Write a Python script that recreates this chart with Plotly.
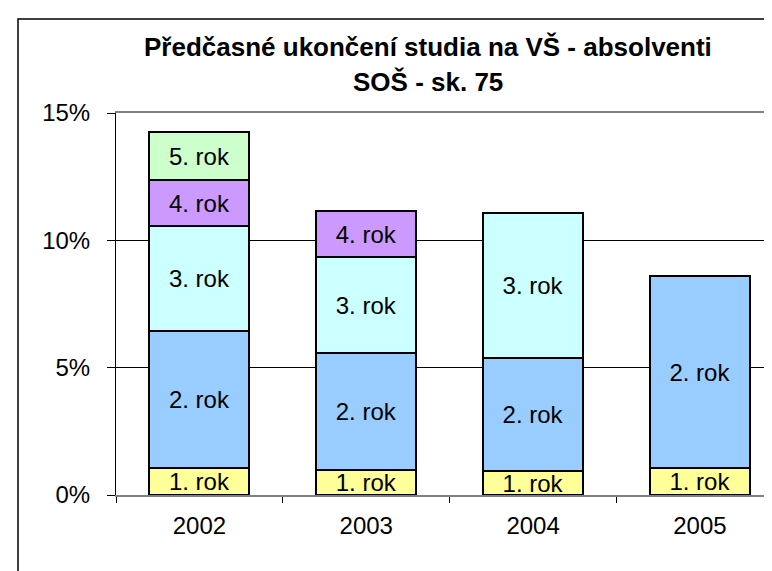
import plotly.graph_objects as go

years = ["2002", "2003", "2004", "2005"]
rok1 = [1.06, 0.98, 0.94, 1.06]
rok2 = [5.37, 4.59, 4.43, 7.53]
rok3 = [4.12, 3.76, 5.69, None]
rok4 = [1.80, 1.81, None, None]
rok5 = [1.92, None, None, None]

series_names = ["1. rok", "2. rok", "3. rok", "4. rok", "5. rok"]
series_vals = [rok1, rok2, rok3, rok4, rok5]
colors = ["#FFFF99", "#99CCFF", "#CCFFFF", "#CC99FF", "#CCFFCC"]

title1 = "Předčasné ukončení studia na VŠ - absolventi"
title2 = "SOŠ - sk. 75"
y_ticks = [0, 5, 10, 15]
y_tick_labels = ["0%", "5%", "10%", "15%"]

W, H = 772, 571
ml, mr, mt, mb = 108, 0, 105, 84
pw, ph = W - ml - mr, H - mt - mb

FONT = "Liberation Sans, Arial, sans-serif"

fig = go.Figure()
for name, vals, col in zip(series_names, series_vals, colors):
    fig.add_trace(go.Bar(
        x=years, y=vals, name=name,
        marker=dict(color=col, line=dict(color="black", width=2)),
        width=0.6,
        text=[name if v is not None else "" for v in vals],
        texttemplate="%{text}",
        textposition="inside",
        insidetextanchor="middle",
        constraintext="none",
        textfont=dict(family=FONT, size=24, color="black"),
        textangle=0,
        hoverinfo="skip",
    ))

def px_x(xp):
    return (xp - ml) / pw

def px_y(yp):
    return (H - mb - yp) / ph

fig.update_layout(
    template="none",
    width=W, height=H,
    barmode="stack",
    showlegend=False,
    plot_bgcolor="white",
    paper_bgcolor="white",
    margin=dict(l=ml, r=mr, t=mt, b=mb, pad=0, autoexpand=False),
    font=dict(family=FONT, size=24, color="black"),
    xaxis=dict(
        type="category",
        automargin=False,
        range=[-0.5, 3.48],
        showline=True, linecolor="#808080", linewidth=2, mirror=True,
        ticks="outside", ticklen=6, tickcolor="black", tickwidth=1,
        tickson="boundaries",
        ticklabelstandoff=8,
        tickfont=dict(family=FONT, size=24, color="black"),
        showgrid=False,
    ),
    yaxis=dict(
        automargin=False,
        range=[0, 15],
        tickmode="array",
        tickvals=y_ticks,
        ticktext=y_tick_labels,
        showline=True, linecolor="black", linewidth=1,
        ticks="outside", ticklen=8, tickcolor="black", tickwidth=1,
        ticklabelstandoff=12,
        showgrid=True, gridcolor="black", gridwidth=1,
        zeroline=False,
        tickfont=dict(family=FONT, size=24, color="black"),
    ),
    annotations=[
        dict(text="<b>" + title1 + "</b>", xref="paper", yref="paper",
             x=px_x(420), y=px_y(39), xanchor="center", yanchor="middle",
             showarrow=False, font=dict(family=FONT, size=26, color="black")),
        dict(text="<b>" + title2 + "</b>", xref="paper", yref="paper",
             x=px_x(420), y=px_y(74), xanchor="center", yanchor="middle",
             showarrow=False, font=dict(family=FONT, size=26, color="black")),
    ],
    shapes=[
        dict(type="rect", xref="paper", yref="paper",
             x0=px_x(10), x1=px_x(790), y0=px_y(590), y1=px_y(11),
             line=dict(color="black", width=1.5), fillcolor="rgba(0,0,0,0)",
             layer="above"),
    ],
)

fig.write_html("out.html")
